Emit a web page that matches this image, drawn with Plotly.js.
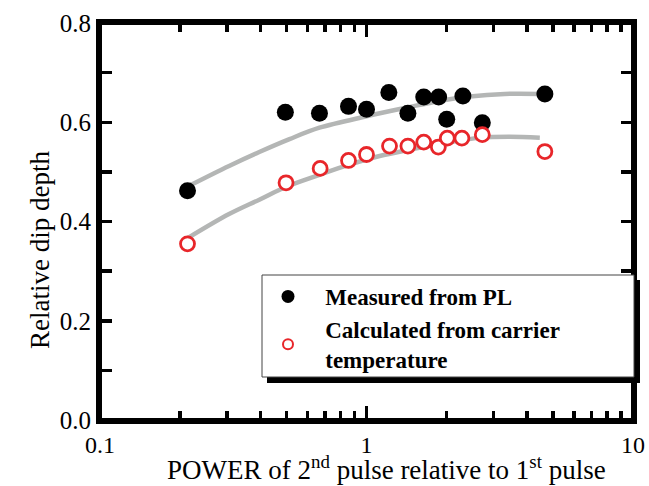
<!DOCTYPE html>
<html>
<head>
<meta charset="utf-8">
<script src="https://cdn.plot.ly/plotly-3.0.1.min.js"></script>
<style>html,body{margin:0;padding:0;background:#fff;}#chart{width:649px;height:486px;}</style>
</head>
<body>
<div id="chart"></div>
<script>
// Measured from PL (black filled)
const xMeasured = [0.213, 0.496, 0.666, 0.856, 1.00, 1.213, 1.43, 1.64, 1.865, 2.00, 2.30, 2.72, 4.67];
const yMeasured = [0.462, 0.620, 0.618, 0.632, 0.626, 0.660, 0.618, 0.651, 0.651, 0.606, 0.653, 0.599, 0.657];
// Calculated from carrier temperature (red open)
const xCalc = [0.213, 0.499, 0.670, 0.856, 1.00, 1.22, 1.43, 1.64, 1.86, 2.01, 2.28, 2.72, 4.67];
const yCalc = [0.355, 0.478, 0.507, 0.523, 0.535, 0.552, 0.552, 0.560, 0.550, 0.568, 0.568, 0.575, 0.541];
// Grey guide curves
const xFitUpper = [0.216, 0.305, 0.396, 0.514, 0.666, 1.00, 1.43, 1.88, 2.44, 3.30, 4.47];
const yFitUpper = [0.472, 0.512, 0.540, 0.566, 0.589, 0.612, 0.630, 0.643, 0.652, 0.657, 0.657];
const xFitLower = [0.214, 0.305, 0.396, 0.500, 0.666, 0.856, 1.12, 1.43, 1.88, 2.66, 3.45, 4.47];
const yFitLower = [0.367, 0.415, 0.444, 0.470, 0.494, 0.514, 0.532, 0.544, 0.556, 0.569, 0.571, 0.569];

const seriesNames = ["Measured from PL", "Calculated from carrier<br>temperature"];
const pad = "\u00a0\u00a0\u00a0";

const grey = "#b4b6b5";
const red = "#e8262a";
const serif = "'Liberation Serif', 'Times New Roman', serif";

const traces = [
  {x: xFitUpper, y: yFitUpper, mode: "lines", line: {color: grey, width: 4.5, shape: "spline"}, showlegend: false, hoverinfo: "skip"},
  {x: xFitLower, y: yFitLower, mode: "lines", line: {color: grey, width: 4.5, shape: "spline"}, showlegend: false, hoverinfo: "skip"},
  {x: xMeasured, y: yMeasured, mode: "markers", marker: {color: "black", size: 17}, showlegend: false},
  {x: xCalc, y: yCalc, mode: "markers", marker: {color: "white", size: 14, line: {color: red, width: 2.8}}, showlegend: false},
  // legend entries
  {x: [null], y: [null], mode: "markers", name: pad + seriesNames[0], marker: {color: "black", size: 13}},
  {x: [null], y: [null], mode: "markers", name: pad + seriesNames[1].replace("<br>", "<br>" + pad), marker: {color: "white", size: 10, line: {color: red, width: 2}}}
];

const pxX = v => (v - 100) / 533;
const pxY = v => (420 - v) / 397;

const layout = {
  width: 649, height: 486,
  margin: {l: 100, r: 16, t: 23, b: 66},
  paper_bgcolor: "white", plot_bgcolor: "white",
  font: {family: serif, color: "black"},
  showlegend: true,
  legend: {x: pxX(268), y: pxY(275), xanchor: "left", yanchor: "top", bgcolor: "rgba(0,0,0,0)",
           font: {family: serif, size: 23, color: "black", weight: "bold"}, tracegroupgap: 0},
  xaxis: {
    type: "log", range: [-1, 1], dtick: 1,
    showgrid: false, zeroline: false,
    showline: true, linecolor: "#000000", linewidth: 4, mirror: "ticks",
    ticks: "inside", ticklen: 14, tickwidth: 3.5, tickcolor: "#000000",
    minor: {dtick: "D1", ticks: "inside", ticklen: 9, tickwidth: 3.5, tickcolor: "#000000", showgrid: false},
    tickfont: {family: serif, size: 24, color: "black"}
  },
  yaxis: {
    range: [0, 0.8], dtick: 0.2, tickformat: ".1f",
    showgrid: false, zeroline: false,
    showline: true, linecolor: "#000000", linewidth: 4, mirror: "ticks",
    ticks: "inside", ticklen: 12, tickwidth: 3.5, tickcolor: "#000000",
    minor: {dtick: 0.1, ticks: "inside", ticklen: 12, tickwidth: 3.5, tickcolor: "#000000", showgrid: false},
    tickfont: {family: serif, size: 25, color: "black"}
  },
  shapes: [
    {type: "rect", xref: "paper", yref: "paper", layer: "above",
     x0: 0, x1: 1, y0: 0, y1: 1, fillcolor: "rgba(0,0,0,0)", line: {color: "black", width: 4}},
    {type: "rect", xref: "paper", yref: "paper", layer: "above",
     x0: pxX(267), x1: pxX(640), y0: pxY(383), y1: pxY(280), fillcolor: "black", line: {width: 0}},
    {type: "rect", xref: "paper", yref: "paper", layer: "above",
     x0: pxX(262), x1: pxX(634), y0: pxY(377), y1: pxY(275), fillcolor: "white", line: {color: "#444", width: 1}}
  ],
  annotations: [
    {text: "POWER of 2<sup>nd</sup> pulse relative to 1<sup>st</sup> pulse", xref: "paper", yref: "paper",
     x: pxX(386), y: pxY(468), xanchor: "center", yanchor: "middle", showarrow: false,
     font: {family: serif, size: 27, color: "black"}},
    {text: "Relative dip depth", xref: "paper", yref: "paper", textangle: -90,
     x: pxX(40), y: pxY(250), xanchor: "center", yanchor: "middle", showarrow: false,
     font: {family: serif, size: 27, color: "black"}}
  ]
};

Plotly.newPlot("chart", traces, layout, {displayModeBar: false, staticPlot: true});
</script>
</body>
</html>
